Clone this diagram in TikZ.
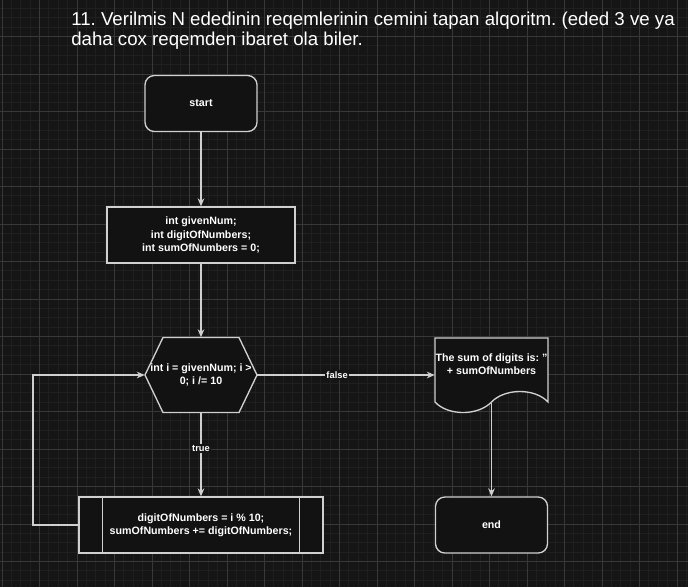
\documentclass[tikz,border=0pt]{standalone}
\usepackage{fontspec}
\setmainfont{Liberation Sans}
\usetikzlibrary{arrows.meta}
\frenchspacing

\definecolor{canvas}{RGB}{21,21,21}
\definecolor{gridminor}{RGB}{31,31,31}
\definecolor{gridmajor}{RGB}{56,56,56}
\definecolor{boxfill}{RGB}{18,18,18}
\definecolor{lineclr}{RGB}{208,208,208}

\tikzset{
    shapeline/.style={draw=lineclr,line width=1pt,fill=boxfill},
    boxtext/.style={text=white,font=\fontsize{8}{10}\selectfont\bfseries,align=center,inner sep=0pt},
    term/.style={shapeline,boxtext,rounded corners=7pt,minimum width=84pt,minimum height=42pt},
    proc/.style={shapeline,boxtext,minimum width=141pt,minimum height=42pt},
    subproc/.style={shapeline,boxtext,minimum width=183pt,minimum height=42pt},
    hexa/.style={boxtext,minimum width=84pt,minimum height=56.25pt},
    docbox/.style={boxtext,minimum width=84.75pt,minimum height=39pt},
}

\begin{document}
\begin{tikzpicture}[x=0.75pt,y=-0.75pt,>={Stealth[length=6pt,width=5pt]}]

    % Canvas and grid %
    \fill[canvas] (0,0) rectangle (688,587);
    \useasboundingbox (0,0) rectangle (688,587);
    \foreach \k in {0,...,73} \draw[gridminor,line width=0.75pt] (2+\k*9.375,0) -- (2+\k*9.375,587);
    \foreach \k in {1,...,63} \draw[gridminor,line width=0.75pt] (0,-1+\k*9.375) -- (688,-1+\k*9.375);
    \foreach \k in {0,...,18} \draw[gridmajor,line width=0.75pt] (2+\k*37.5,0) -- (2+\k*37.5,587);
    \foreach \k in {1,...,16} \draw[gridmajor,line width=0.75pt] (0,-1+\k*37.5) -- (688,-1+\k*37.5);

    \node[anchor=north west,align=left,inner sep=0pt,text=white,font=\fontsize{14}{15.5}\selectfont] (head) at (71,11.5)
        {11. Verilmis N ededinin reqemlerinin cemini tapan alqoritm. (eded 3 ve ya\\daha cox reqemden ibaret ola biler.};

    % Loop header and output outlines %
    \draw[shapeline] (163,337.5) -- (239,337.5) -- (257,375) -- (239,412.5) -- (163,412.5) -- (145,375) -- cycle;
    \draw[shapeline] (435,338) -- (548,338) -- (548,402) .. controls (535,388) and (505,388) .. (491.5,402)
        .. controls (478,416) and (448,416) .. (435,402) -- cycle;

    \node[term] (start) at (201,103.5) {start};
    \node[proc] (init) at (201,235) {int givenNum;\\int digitOfNumbers;\\int sumOfNumbers = 0;};
    \node[hexa] (loop) at (201,375) {int i = givenNum; i >\\0; i /= 10};
    \node[docbox] (out) at (491.5,364) {The sum of digits is: "\\+ sumOfNumbers};
    \node[subproc] (body) at (201,525) {digitOfNumbers = i \% 10;\\sumOfNumbers += digitOfNumbers;};
    \node[term] (stop) at (491.5,525) {end};
    \draw[draw=lineclr,line width=1pt] ([xshift=18pt]body.north west) -- ([xshift=18pt]body.south west);
    \draw[draw=lineclr,line width=1pt] ([xshift=-18pt]body.north east) -- ([xshift=-18pt]body.south east);

    \coordinate (outb) at (491.5,403);
    \coordinate (back) at (33,375);

    \begin{scope}[every node/.style={fill=canvas,text=white,font=\fontsize{7}{8}\selectfont\bfseries,inner sep=1pt},
                  every edge/.style={draw=lineclr,line width=1pt}]
        \path [->] (start) edge (init);
        \path [->] (init) edge (loop);
        \path [->] (loop.east) edge node[pos=0.45] {false} (loop.east -| out.west); % exit the loop
        \path [->] (loop) edge node[pos=0.43] {true} (body);
        \path [->] (outb) edge (stop);
    \end{scope}

    % back to the loop header %
    \draw[draw=lineclr,line width=1pt,->] (body.west) -| (back) -- (loop.west);

\end{tikzpicture}
\end{document}
